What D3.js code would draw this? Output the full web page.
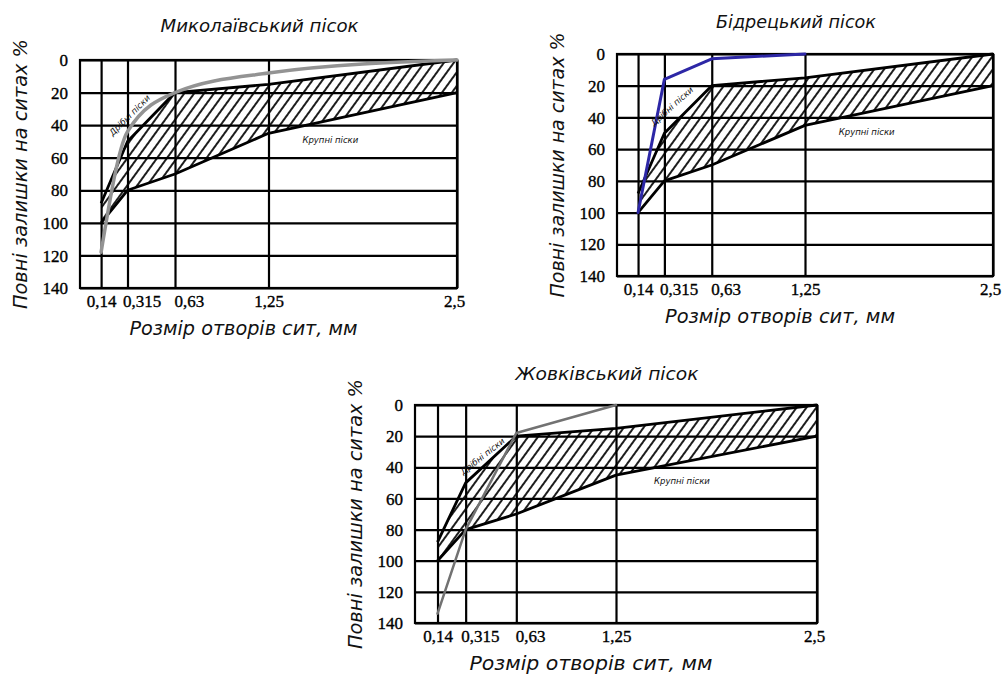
<!DOCTYPE html>
<html>
<head>
<meta charset="utf-8">
<script src="https://cdn.jsdelivr.net/npm/d3@7"></script>
<style>
  body { margin: 0; background: #fff; }
</style>
</head>
<body>
<svg id="chart" width="1002" height="675"></svg>
<script>
// sieve openings (mm) and axis ticks
const sieveSizes  = [0.14, 0.315, 0.63, 1.25, 2.5];
const sieveLabels = ['0,14', '0,315', '0,63', '1,25', '2,5'];
const residueTicks = [0, 20, 40, 60, 80, 100, 120, 140];

// grading zone limits, full residue on sieve %
const fineLimit   = [88, 50, 20, 15, 0];    // дрібні піски
const coarseLimit = [100, 80, 70, 45, 20];  // крупні піски

// sand samples
const mykolaivSieves   = [0.14, 0.315, 0.63, 1.25, 2.5];
const mykolaivResidue  = [118, 44, 20, 8, 0];
const bidretskySieves  = [0.14, 0.315, 0.63, 1.25];
const bidretskyResidue = [100, 16, 3, 0];
const zhovkvaSieves    = [0.14, 0.315, 0.63, 1.25];
const zhovkvaResidue   = [134, 80, 18, 0];

const titles = ['Миколаївський пісок', 'Бідрецький пісок', 'Жовківський пісок'];
const yTitle = 'Повні залишки на ситах %';
const xTitle = 'Розмір отворів сит, мм';

const panels = [
  { title: titles[0], sieves: mykolaivSieves, residue: mykolaivResidue, color: '#939393', lw: 3.5, smooth: true,
    box: [80, 60, 457, 288], titleY: 32, titleLen: 198, xLen: 228, yLen: 270, fineAt: [0.33, 34], fineRot: -45 },
  { title: titles[1], sieves: bidretskySieves, residue: bidretskyResidue, color: '#2d27a6', lw: 3, smooth: false,
    box: [617, 54, 993, 276], titleY: 28, titleLen: 160, xLen: 230, yLen: 265, fineAt: [0.366, 33], fineRot: -42 },
  { title: titles[2], sieves: zhovkvaSieves, residue: zhovkvaResidue, color: '#727272', lw: 2.5, smooth: false,
    box: [415, 405, 817, 623], titleY: 380, titleLen: 183, xLen: 243, yLen: 270, fineAt: [0.42, 33], fineRot: -38 }
];

const svg = d3.select('#chart');
svg.append('rect').attr('width', 1002).attr('height', 675).attr('fill', '#fff');

svg.append('defs').append('pattern')
  .attr('id', 'hatch').attr('patternUnits', 'userSpaceOnUse')
  .attr('width', 8).attr('height', 8).attr('patternTransform', 'rotate(36)')
  .append('line').attr('x1', 4).attr('x2', 4).attr('y1', 0).attr('y2', 8)
  .attr('stroke', '#111').attr('stroke-width', 1.9);

const gostFont = '"DejaVu Sans", sans-serif';
const serifFont = '"Liberation Serif", "Times New Roman", serif';

const zone = sieveSizes.map((s, i) => ({ s, hi: fineLimit[i], lo: coarseLimit[i] }));

panels.forEach(p => {
  const [x0, y0, x1, y1] = p.box;
  const x = d3.scaleLinear().domain([0, 2.5]).range([x0, x1]);
  const y = d3.scaleLinear().domain([0, 140]).range([y0, y1]);
  const g = svg.append('g');

  // hatched zone
  g.append('path').datum(zone)
    .attr('d', d3.area().x(d => x(d.s)).y0(d => y(d.lo)).y1(d => y(d.hi)))
    .attr('fill', 'url(#hatch)');

  // grid through axes
  const last = sieveSizes.length - 1;
  const gxAxis = g.append('g').attr('transform', `translate(0,${y1})`)
    .call(d3.axisBottom(x).tickValues(sieveSizes).tickSize(-(y1 - y0))
      .tickFormat((d, i) => sieveLabels[i]));
  gxAxis.select('.domain').remove();
  gxAxis.selectAll('line').attr('stroke', '#000').attr('stroke-width', 2.2);
  gxAxis.selectAll('text')
    .attr('y', 19).attr('dy', null)
    .attr('text-anchor', (d, i) => (i === 1 || i === 2) ? 'start' : 'middle')
    .attr('dx', (d, i) => i === 1 ? -5 : i === 2 ? -1 : i === last ? -3 : 0)
    .attr('font-family', serifFont).attr('font-size', 17).attr('fill', '#000')
    .attr('stroke', '#000').attr('stroke-width', 0.35);

  const gyAxis = g.append('g').attr('transform', `translate(${x0},0)`)
    .call(d3.axisLeft(y).tickValues(residueTicks).tickSize(-(x1 - x0)).tickFormat(d3.format('d')));
  gyAxis.select('.domain').remove();
  gyAxis.selectAll('line').attr('stroke', '#000').attr('stroke-width', 2.2);
  gyAxis.selectAll('text')
    .attr('x', -12).attr('dy', '0.33em')
    .attr('font-family', serifFont).attr('font-size', 17).attr('fill', '#000')
    .attr('stroke', '#000').attr('stroke-width', 0.35);

  g.append('rect').attr('x', x0).attr('y', y0).attr('width', x1 - x0).attr('height', y1 - y0)
    .attr('fill', 'none').attr('stroke', '#000').attr('stroke-width', 2.2);

  // zone limits
  [fineLimit, coarseLimit].forEach(lim => {
    g.append('path').datum(sieveSizes.map((s, i) => [s, lim[i]]))
      .attr('d', d3.line().x(d => x(d[0])).y(d => y(d[1])))
      .attr('fill', 'none').attr('stroke', '#000').attr('stroke-width', 2.8)
      .attr('stroke-linejoin', 'round');
  });

  // sample curve
  g.append('path').datum(p.sieves.map((s, i) => [s, p.residue[i]]))
    .attr('d', d3.line().x(d => x(d[0])).y(d => y(d[1]))
      .curve(p.smooth ? d3.curveMonotoneX : d3.curveLinear))
    .attr('fill', 'none').attr('stroke', p.color).attr('stroke-width', p.lw)
    .attr('stroke-linejoin', 'round').attr('stroke-linecap', 'round');

  // zone labels
  g.append('text')
    .attr('transform', `translate(${x(p.fineAt[0])},${y(p.fineAt[1])}) rotate(${p.fineRot})`)
    .attr('text-anchor', 'middle').attr('dy', '0.33em')
    .attr('font-family', gostFont).attr('font-style', 'italic').attr('font-size', 8.5)
    .attr('fill', '#111').text('Дрібні піски');
  g.append('text')
    .attr('x', x(1.66)).attr('y', y(49)).attr('dy', '0.33em')
    .attr('text-anchor', 'middle')
    .attr('font-family', gostFont).attr('font-style', 'italic').attr('font-size', 8.5)
    .attr('fill', '#111').text('Крупні піски');

  // titles
  const cx = (x0 + x1) / 2;
  svg.append('text').attr('x', cx - 9).attr('y', p.titleY)
    .attr('text-anchor', 'middle').attr('font-family', gostFont).attr('font-style', 'italic')
    .attr('font-size', 18).attr('textLength', p.titleLen).attr('lengthAdjust', 'spacingAndGlyphs')
    .attr('fill', '#111').text(p.title);

  svg.append('text').attr('x', cx - 25).attr('y', y1 + 47)
    .attr('text-anchor', 'middle').attr('font-family', gostFont).attr('font-style', 'italic')
    .attr('font-size', 19).attr('textLength', p.xLen).attr('lengthAdjust', 'spacingAndGlyphs')
    .attr('fill', '#111').text(xTitle);

  svg.append('text')
    .attr('transform', `translate(${x0 - 53},${(y0 + y1) / 2}) rotate(-90)`)
    .attr('text-anchor', 'middle').attr('font-family', gostFont).attr('font-style', 'italic')
    .attr('font-size', 20).attr('textLength', p.yLen).attr('lengthAdjust', 'spacingAndGlyphs')
    .attr('fill', '#111').text(yTitle);
});
</script>
</body>
</html>
